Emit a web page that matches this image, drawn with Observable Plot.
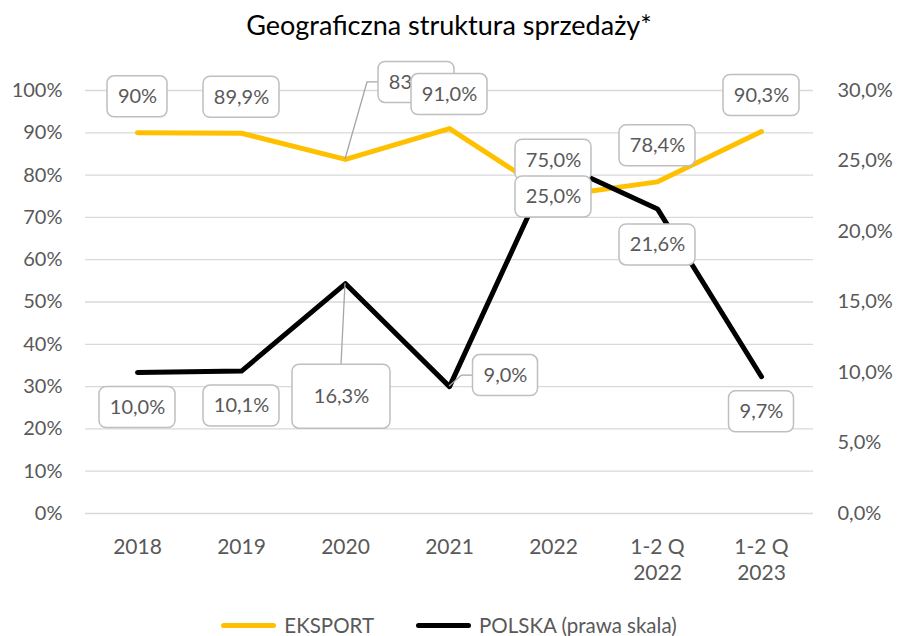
<!DOCTYPE html>
<html><head><meta charset="utf-8">
<script src="https://cdn.jsdelivr.net/npm/d3@7"></script>
<script src="https://cdn.jsdelivr.net/npm/@observablehq/plot@0.6"></script>
<style>
body{margin:0;background:#fff;}
#wrap{position:relative;width:898px;height:636px;font-family:Lato,"Open Sans",sans-serif;overflow:hidden;background:#fff}
#title{position:absolute;top:0;left:0;width:898px;height:50px;line-height:50px;text-align:center;font-size:27px;color:#000}
#plot{position:absolute;top:48px;left:0}
#legend{position:absolute;top:613px;left:0;width:898px;height:24px;display:flex;justify-content:center;align-items:center;font-size:20.5px;color:#595959}
.item{display:flex;align-items:center}
.sw{display:inline-block;width:55px;height:5px;border-radius:3px;margin-right:8px}
</style></head><body>
<div id="wrap"><div id="title">Geograficzna struktura sprzedaży*</div><div id="plot"></div><div id="legend"></div></div>
<script>
// ---- data ----
const categories = ["2018", "2019", "2020", "2021", "2022", "1-2 Q\n2022", "1-2 Q\n2023"];
const eksport = [90.0, 89.9, 83.7, 91.0, 75.0, 78.4, 90.3];
const polska = [10.0, 10.1, 16.3, 9.0, 25.0, 21.6, 9.7];
const eksportLabels = ["90%", "89,9%", "83,7%", "91,0%", "75,0%", "78,4%", "90,3%"];
const polskaLabels = ["10,0%", "10,1%", "16,3%", "9,0%", "25,0%", "21,6%", "9,7%"];
const leftTicks = [0, 10, 20, 30, 40, 50, 60, 70, 80, 90, 100];
const rightTicks = [0, 5, 10, 15, 20, 25, 30];
const seriesNames = ["EKSPORT", "POLSKA (prawa skala)"];
const seriesColors = ["#FFC000", "#000000"];

// ---- layout of data labels (pixel offsets from the point) ----
const eksportLabelLayout = [
  {dx: 0, dy: -36}, {dx: 0, dy: -36}, {dx: 71, dy: -77, leader: "left"}, {dx: 0, dy: -34},
  {dx: 0, dy: -36}, {dx: 0, dy: -36}, {dx: 0, dy: -36}
];
const polskaLabelLayout = [
  {dx: 0, dy: 35}, {dx: 0, dy: 35}, {dx: -4, dy: 113, w: 98, h: 64, leader: "top"}, {dx: 56, dy: -11, leader: "left"},
  {dx: 0, dy: 36}, {dx: 0, dy: 36}, {dx: 0, dy: 35}
];

const leftMax = leftTicks[leftTicks.length - 1];
const rightMax = rightTicks[rightTicks.length - 1];
const rows = categories.map((c, i) => ({cat: c, e: eksport[i] / leftMax, p: polska[i] / rightMax}));

const fmtRight = v => (v).toFixed(1).replace(".", ",") + "%";

const labelMarks = [];
rows.forEach((r, i) => {
  labelMarks.push(Plot.text([r], {x: "cat", y: "e", text: () => eksportLabels[i], dx: eksportLabelLayout[i].dx, dy: eksportLabelLayout[i].dy, fill: "#595959", fontSize: 20}));
});
rows.forEach((r, i) => {
  labelMarks.push(Plot.text([r], {x: "cat", y: "p", text: () => polskaLabels[i], dx: polskaLabelLayout[i].dx, dy: polskaLabelLayout[i].dy, fill: "#595959", fontSize: 20}));
});

const svg = Plot.plot({
  width: 898,
  height: 548,
  marginTop: 42,
  marginBottom: 83,
  marginLeft: 85,
  marginRight: 85,
  style: {fontFamily: "Lato, 'Open Sans', sans-serif", fontSize: "20px", color: "#595959", background: "#fff"},
  x: {type: "point", domain: categories, padding: 0.5},
  y: {domain: [0, 1]},
  marks: [
    Plot.gridY(leftTicks.map(v => v / leftMax), {stroke: "#d9d9d9", strokeOpacity: 1, strokeWidth: 1.3}),
    Plot.axisY(leftTicks.map(v => v / leftMax), {anchor: "left", tickSize: 0, tickPadding: 23, tickFormat: d => Math.round(d * leftMax) + "%", label: null, fill: "#595959", fontSize: 20}),
    Plot.axisY(rightTicks.map(v => v / rightMax), {anchor: "right", tickSize: 0, tickPadding: 24, tickFormat: d => fmtRight(d * rightMax), label: null, fill: "#595959", fontSize: 20}),
    Plot.axisX({tickSize: 0, tickPadding: 22, label: null, fill: "#595959", fontSize: 21, lineHeight: 1.25}),
    Plot.line(rows, {x: "cat", y: "e", stroke: seriesColors[0], strokeWidth: 5, strokeLinejoin: "round", strokeLinecap: "round"}),
    Plot.line(rows, {x: "cat", y: "p", stroke: seriesColors[1], strokeWidth: 5, strokeLinejoin: "round", strokeLinecap: "round"}),
    ...labelMarks
  ]
});
document.getElementById("plot").append(svg);

// ---- boxes and leader lines behind the data labels ----
const ns = "http://www.w3.org/2000/svg";
const xs = svg.scale("x"), ys = svg.scale("y");
const textGroups = Array.from(svg.querySelectorAll('g[aria-label="text"]'));
const labelInfo = [
  ...rows.map((r, i) => ({cat: r.cat, v: r.e, L: eksportLabelLayout[i]})),
  ...rows.map((r, i) => ({cat: r.cat, v: r.p, L: polskaLabelLayout[i]}))
];
textGroups.forEach((g, k) => {
  const info = labelInfo[k];
  if (!info) return;
  const t = g.querySelector("text");
  const tw = t.getBBox().width;
  const px = xs.apply(info.cat), py = ys.apply(info.v);
  const L = info.L;
  const cx = px + L.dx, cy = py + L.dy;
  const w = L.w ?? Math.round(tw + 21), h = L.h ?? 41;
  const bg = document.createElementNS(ns, "g");
  if (L.leader) {
    const path = document.createElementNS(ns, "path");
    let d;
    if (L.leader === "left") {
      const left = cx - w / 2;
      d = `M${px},${py}L${left - 11},${cy}L${left},${cy}`;
    } else {
      d = `M${px},${py}L${cx},${cy - h / 2}`;
    }
    path.setAttribute("d", d);
    path.setAttribute("fill", "none");
    path.setAttribute("stroke", "#a6a6a6");
    path.setAttribute("stroke-width", "1.3");
    bg.append(path);
  }
  const rect = document.createElementNS(ns, "rect");
  rect.setAttribute("x", cx - w / 2);
  rect.setAttribute("y", cy - h / 2);
  rect.setAttribute("width", w);
  rect.setAttribute("height", h);
  rect.setAttribute("rx", 7);
  rect.setAttribute("fill", "#fff");
  rect.setAttribute("stroke", "#bfbfbf");
  rect.setAttribute("stroke-width", "1.5");
  bg.append(rect);
  g.parentNode.insertBefore(bg, g);
});

// ---- legend ----
const legend = document.getElementById("legend");
seriesNames.forEach((name, i) => {
  const item = document.createElement("div");
  item.className = "item";
  if (i > 0) item.style.marginLeft = "42px";
  const sw = document.createElement("span");
  sw.className = "sw";
  sw.style.background = seriesColors[i];
  item.append(sw, document.createTextNode(name));
  legend.append(item);
});
</script>
</body></html>
